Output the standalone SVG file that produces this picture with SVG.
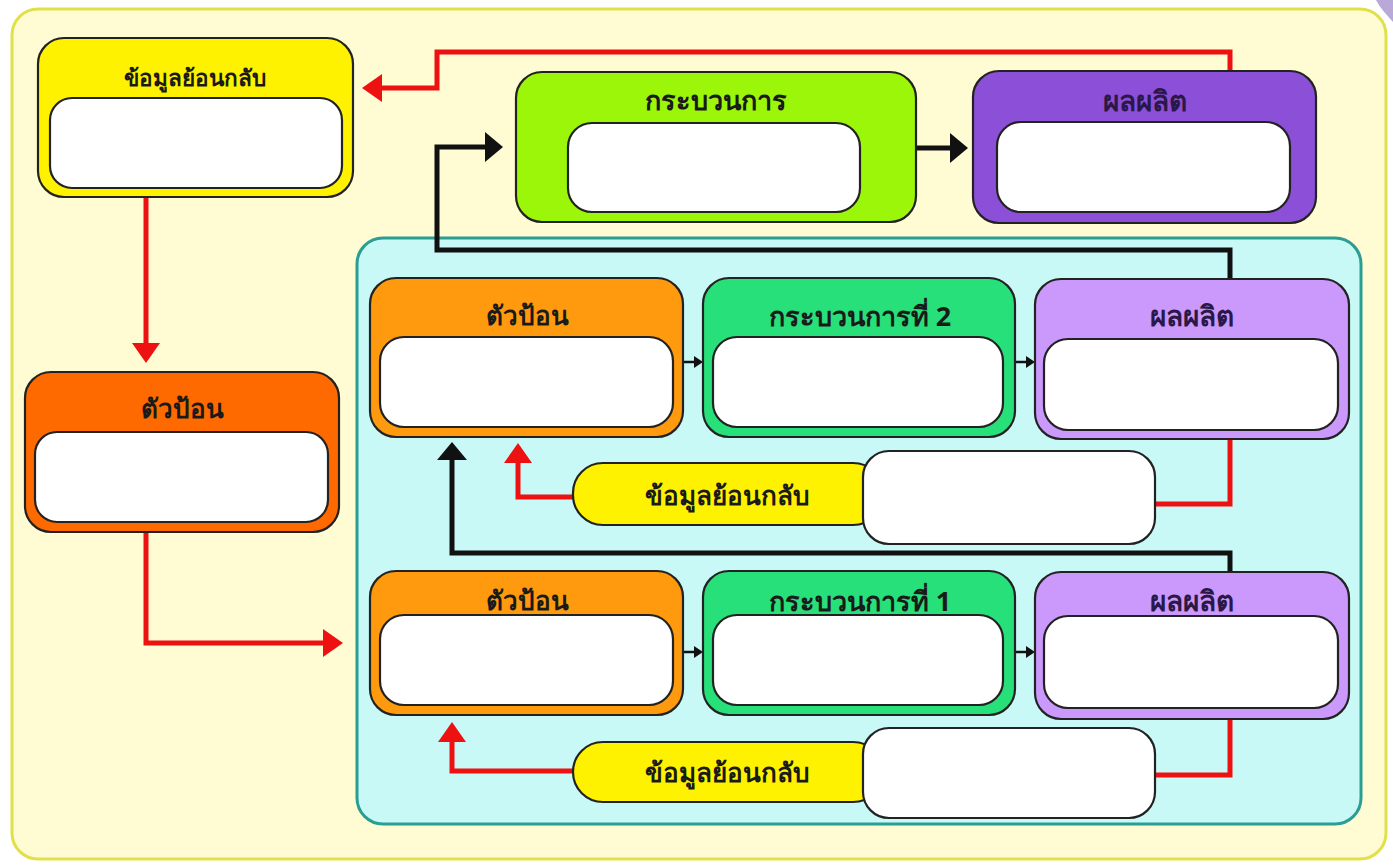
<svg xmlns="http://www.w3.org/2000/svg" width="1393" height="866" viewBox="0 0 1393 866">
<defs>
<style>
.box{stroke:#222;stroke-width:2.2}
.inner{fill:#fff;stroke:#222;stroke-width:2.2}
.t{font-family:"Noto Sans","DejaVu Sans","Liberation Sans",sans-serif;font-size:26px;font-weight:bold;fill:#1a1a1a;text-anchor:middle}
.s{font-size:22.5px}
.p{font-size:27px}
.o{font-size:28px}
.l{font-size:26px}
.tp{fill:#2a1848}
.red{fill:none;stroke:#ee1111;stroke-width:5}
.blk{fill:none;stroke:#111;stroke-width:5}
.thin{fill:none;stroke:#111;stroke-width:2.5}
</style>
<marker id="ar" markerUnits="userSpaceOnUse" viewBox="0 0 20 28" refX="4" refY="14" markerWidth="20" markerHeight="28" orient="auto"><path d="M0,0 L20,14 L0,28 Z" fill="#ee1111"/></marker>
<marker id="ab" markerUnits="userSpaceOnUse" viewBox="0 0 18 30" refX="4" refY="15" markerWidth="18" markerHeight="30" orient="auto"><path d="M0,0 L18,15 L0,30 Z" fill="#111"/></marker>
<marker id="as" markerUnits="userSpaceOnUse" viewBox="0 0 9 12" refX="2" refY="6" markerWidth="9" markerHeight="12" orient="auto"><path d="M0,0 L9,6 L0,12 Z" fill="#111"/></marker>
</defs>
<rect x="0" y="0" width="1393" height="866" fill="#ffffff"/>
<path d="M1376,0 H1393 V22 C1386,14 1380,8 1376,0 Z" fill="#b9a9d9"/>
<rect x="12" y="9" width="1374" height="850" rx="26" fill="#fffbd2" stroke="#e2e04a" stroke-width="3"/>
<rect id="panel" x="357" y="238" width="1004" height="586" rx="26" fill="#c9f9f6" stroke="#2b9e94" stroke-width="3"/>

<g id="connectors">
<path class="red" d="M1230,71 V52 H437 V88 H378" marker-end="url(#ar)"/>
<path class="red" d="M146,197 V347" marker-end="url(#ar)"/>
<path class="red" d="M146,532 V643 H327" marker-end="url(#ar)"/>
<path class="red" d="M573,497 H518 V459" marker-end="url(#ar)"/>
<path class="red" d="M1155,504 H1230 V439"/>
<path class="red" d="M573,771 H452 V738" marker-end="url(#ar)"/>
<path class="red" d="M1155,775 H1230 V719"/>
<path class="blk" d="M916,148 H954" marker-end="url(#ab)"/>
<path class="blk" d="M1230,278 V250 H437 V147 H489" marker-end="url(#ab)"/>
<path class="blk" d="M1230,572 V553 H452 V456" marker-end="url(#ab)"/>
<path class="thin" d="M683,362 H696" marker-end="url(#as)"/>
<path class="thin" d="M1015,362 H1028" marker-end="url(#as)"/>
<path class="thin" d="M683,652 H696" marker-end="url(#as)"/>
<path class="thin" d="M1015,652 H1028" marker-end="url(#as)"/>
</g>

<g id="feedback-top">
<rect class="box" x="38" y="38" width="315" height="159" rx="26" fill="#fff200"/>
<rect class="inner" x="50" y="98" width="292" height="90" rx="22"/>
<text class="t s" x="195" y="86">ข้อมูลย้อนกลับ</text>
</g>
<g id="input-main">
<rect class="box" x="25" y="372" width="314" height="160" rx="26" fill="#ff6a00"/>
<rect class="inner" x="35" y="432" width="293" height="90" rx="22"/>
<text class="t" x="182" y="418">ตัวป้อน</text>
</g>
<g id="process-main">
<rect class="box" x="516" y="72" width="400" height="150" rx="26" fill="#9cf60a"/>
<rect class="inner" x="568" y="123" width="292" height="89" rx="24"/>
<text class="t p" x="716" y="110">กระบวนการ</text>
</g>
<g id="output-main">
<rect class="box" x="973" y="71" width="343" height="152" rx="26" fill="#8c4fd8"/>
<rect class="inner" x="997" y="122" width="293" height="90" rx="24"/>
<text class="t o tp" x="1145" y="111">ผลผลิต</text>
</g>

<g id="input-2">
<rect class="box" x="370" y="278" width="313" height="159" rx="26" fill="#ff9a0e"/>
<rect class="inner" x="380" y="337" width="293" height="90" rx="24"/>
<text class="t" x="527" y="325">ตัวป้อน</text>
</g>
<g id="process-2">
<rect class="box" x="703" y="278" width="312" height="159" rx="26" fill="#27e07a"/>
<rect class="inner" x="713" y="337" width="290" height="90" rx="24"/>
<text class="t p" x="860" y="326">กระบวนการที่ 2</text>
</g>
<g id="output-2">
<rect class="box" x="1035" y="279" width="314" height="160" rx="26" fill="#cb98fb"/>
<rect class="inner" x="1044" y="339" width="294" height="91" rx="24"/>
<text class="t o tp" x="1192" y="326">ผลผลิต</text>
</g>
<g id="feedback-2">
<rect class="box" x="573" y="463" width="310" height="62" rx="30" fill="#fff200"/>
<rect class="inner" x="863" y="451" width="292" height="93" rx="26"/>
<text class="t l" x="727" y="505">ข้อมูลย้อนกลับ</text>
</g>

<g id="input-1">
<rect class="box" x="370" y="571" width="313" height="144" rx="26" fill="#ff9a0e"/>
<rect class="inner" x="380" y="615" width="293" height="90" rx="24"/>
<text class="t" x="527" y="610">ตัวป้อน</text>
</g>
<g id="process-1">
<rect class="box" x="703" y="571" width="312" height="144" rx="26" fill="#27e07a"/>
<rect class="inner" x="713" y="615" width="290" height="90" rx="24"/>
<text class="t p" x="860" y="611">กระบวนการที่ 1</text>
</g>
<g id="output-1">
<rect class="box" x="1035" y="572" width="314" height="147" rx="26" fill="#cb98fb"/>
<rect class="inner" x="1044" y="616" width="294" height="92" rx="24"/>
<text class="t o tp" x="1192" y="611">ผลผลิต</text>
</g>
<g id="feedback-1">
<rect class="box" x="573" y="742" width="310" height="60" rx="30" fill="#fff200"/>
<rect class="inner" x="863" y="728" width="292" height="90" rx="26"/>
<text class="t l" x="727" y="782">ข้อมูลย้อนกลับ</text>
</g>
</svg>
